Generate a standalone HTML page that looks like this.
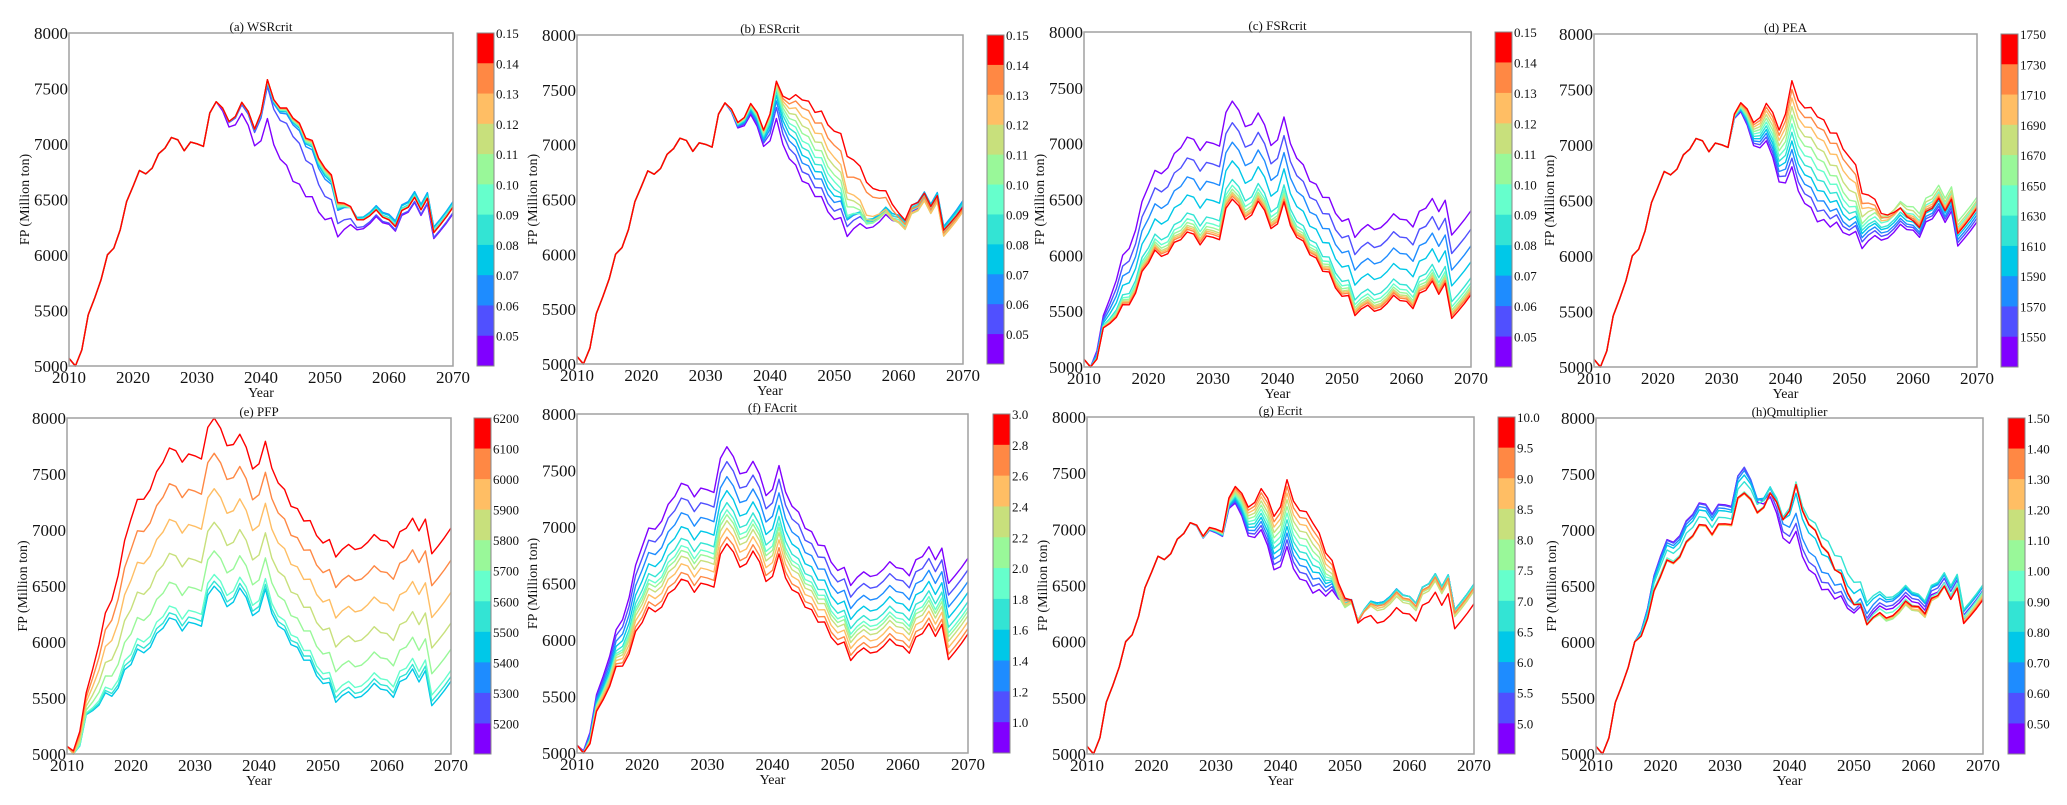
<!DOCTYPE html>
<html><head><meta charset="utf-8"><title>FP sensitivity panels</title>
<style>
html,body{margin:0;padding:0;background:#fff;}
svg{display:block;}
text{font-family:"Liberation Serif","DejaVu Serif",serif;fill:#111;}
</style></head>
<body>
<svg id="fig" width="2067" height="805" viewBox="0 0 2067 805" xmlns="http://www.w3.org/2000/svg"></svg>
<script>
// ---- data ----
const years = []; for (let y = 2010; y <= 2070; y++) years.push(y);
const baseSeries = [5069,5000,5144,5460,5610,5776,6001,6061,6226,6481,6617,6761,6731,6783,6912,6963,7059,7038,6939,7017,7002,6978,7279,7381,7324,7203,7248,7375,7294,7134,7279,7579,7399,7324,7324,7233,7188,7053,7032,6873,6783,6722,6473,6467,6437,6317,6317,6353,6407,6341,6317,6257,6401,6431,6521,6407,6512,6202,6272,6347,6431];
const anchorYears = [2010,2013,2016,2020,2026,2031,2033,2039,2041,2045,2050,2052,2055,2060,2070];
const yTicks = [5000,5500,6000,6500,7000,7500,8000];
const xTicks = [2010,2020,2030,2040,2050,2060,2070];
const bandColors = ['#8000ff','#5050ff','#1e8cff','#00c8e8','#33e4d4','#66ffcc','#99f899','#c8e07c','#ffbe64','#ff8844','#ff0000'];

const deltasA = [
[0,0,0,0,0,0,0,-150,-350,-570,-465,-310,-90,-40,-60],
[0,0,0,0,0,0,0,-30,-60,-165,-255,-190,-70,-30,-50],
[0,0,0,0,0,0,0,-10,-30,-60,-100,-70,20,50,50],
[0,0,0,0,0,0,0,-5,-20,-40,-70,-60,20,40,45],
[0,0,0,0,0,0,0,0,-10,-30,-50,-50,10,20,20],
[0,0,0,0,0,0,0,0,-10,-25,-40,-40,0,10,10],
[0,0,0,0,0,0,0,0,-5,-20,-30,-30,0,5,5],
[0,0,0,0,0,0,0,0,0,-10,-15,-15,0,0,0],
[0,0,0,0,0,0,0,0,0,-10,-15,-15,0,0,0],
[0,0,0,0,0,0,0,0,0,-5,-10,-10,0,0,0],
[0,0,0,0,0,0,0,0,0,0,0,0,0,0,0]];
const deltasB = [
[0,0,0,0,0,0,0,-150,-340,-566,-465,-310,-80,-20,10],
[0,0,0,0,0,0,0,-120,-240,-480,-390,-220,-30,20,40],
[0,0,0,0,0,0,0,-100,-180,-400,-310,-160,-10,40,60],
[0,0,0,0,0,0,0,-80,-130,-330,-250,-150,0,40,50],
[0,0,0,0,0,0,0,-60,-90,-260,-190,-140,-20,20,30],
[0,0,0,0,0,0,0,-45,-60,-200,-120,-120,-40,0,0],
[0,0,0,0,0,0,0,-30,-40,-130,-60,-40,-30,-20,-30],
[0,0,0,0,0,0,0,-20,-20,-60,20,30,0,-30,-40],
[0,0,0,0,0,0,0,-10,-10,20,100,90,40,-20,-40],
[0,0,0,0,0,0,0,-5,-5,100,210,230,250,20,-20],
[0,0,0,0,0,0,0,0,0,175,340,420,340,60,0]];
const deltasC = [
[0,0,0,0,0,0,0,-150,-340,-570,-478,-312,-87,0,-30],
[0,-24,-97,-151,-187,-184,-193,-314,-507,-715,-626,-466,-248,-160,-196],
[0,-46,-186,-288,-357,-352,-368,-463,-659,-846,-760,-606,-394,-306,-346],
[0,-67,-270,-418,-519,-511,-535,-604,-804,-971,-888,-740,-533,-445,-489],
[0,-88,-354,-549,-680,-670,-702,-746,-948,-1096,-1016,-873,-672,-583,-632],
[0,-95,-381,-590,-731,-721,-754,-791,-994,-1135,-1056,-915,-716,-627,-678],
[0,-99,-399,-617,-765,-754,-789,-821,-1024,-1161,-1083,-943,-745,-656,-708],
[0,-102,-412,-638,-791,-779,-816,-843,-1047,-1181,-1103,-964,-767,-678,-730],
[0,-105,-421,-652,-808,-796,-833,-858,-1062,-1194,-1116,-978,-781,-693,-745],
[0,-107,-430,-665,-825,-813,-851,-873,-1077,-1207,-1130,-992,-796,-707,-760],
[0,-110,-443,-686,-850,-838,-877,-895,-1100,-1227,-1150,-1013,-818,-729,-783]];
const deltasD = [
[0,0,0,0,0,0,-80,-466,-775,-925,-595,-406,-175,-85,-123],
[0,0,0,0,0,0,-72,-419,-698,-830,-550,-346,-140,-60,-90],
[0,0,0,0,0,0,-64,-373,-620,-736,-520,-307,-110,-40,-60],
[0,0,0,0,0,0,-56,-326,-543,-642,-460,-271,-80,-10,-30],
[0,0,0,0,0,0,-48,-280,-465,-547,-400,-241,-60,20,0],
[0,0,0,0,0,0,-40,-233,-388,-452,-340,-211,-20,60,50],
[0,0,0,0,0,0,-32,-186,-310,-358,-280,-181,20,126,100],
[0,0,0,0,0,0,-24,-140,-233,-264,-190,-121,40,90,70],
[0,0,0,0,0,0,-16,-93,-155,-169,-85,-46,0,40,30],
[0,0,0,0,0,0,-8,-47,-78,-74,20,0,30,20,10],
[0,0,0,0,0,0,0,0,0,20,110,90,66,0,0]];
const deltasE = [
null,null,null,
[0,-108,-455,-819,-844,-837,-883,-898,-1105,-1256,-1154,-1011,-816,-748,-781],
[0,-102,-434,-780,-798,-792,-838,-859,-1065,-1219,-1116,-972,-776,-708,-740],
[0,-94,-405,-728,-738,-732,-778,-806,-1013,-1170,-1066,-920,-723,-655,-685],
[0,-67,-305,-546,-525,-523,-568,-623,-828,-997,-890,-739,-538,-468,-494],
[0,-34,-184,-325,-268,-270,-312,-401,-604,-787,-677,-518,-313,-242,-261],
[0,5,-41,-66,36,29,-12,-139,-341,-540,-426,-259,-48,24,12],
[0,45,109,207,354,342,304,136,-64,-280,-163,14,230,303,300],
[0,86,259,480,673,656,619,411,213,-21,101,286,508,583,587]];
const deltasF = [
[0,56,89,210,328,327,330,144,-36,-244,-168,9,245,313,293],
[0,33,39,107,197,198,198,27,-156,-351,-269,-93,141,207,190],
[0,10,-11,3,67,69,65,-90,-277,-459,-370,-195,36,101,87],
[0,-11,-57,-94,-56,-51,-59,-200,-389,-559,-465,-291,-61,2,-9],
[0,-29,-97,-176,-160,-154,-165,-293,-485,-645,-546,-372,-145,-82,-92],
[0,-40,-122,-227,-224,-217,-229,-350,-544,-698,-595,-422,-196,-134,-142],
[0,-48,-138,-260,-266,-259,-272,-388,-583,-733,-628,-455,-230,-168,-175],
[0,-56,-157,-301,-317,-309,-324,-434,-630,-774,-667,-495,-270,-209,-215],
[0,-68,-183,-354,-385,-376,-392,-494,-692,-830,-720,-548,-325,-264,-269],
[0,-82,-212,-415,-462,-451,-470,-563,-762,-893,-779,-608,-386,-326,-329],
[0,-92,-235,-462,-521,-510,-530,-616,-817,-942,-825,-654,-433,-374,-376]];
const deltasG = [
[0,0,0,0,0,-41,-147,-494,-731,-801,-416,-303,26,85,81],
[0,0,0,0,0,-37,-132,-447,-672,-739,-410,-290,26,85,81],
[0,0,0,0,0,-33,-118,-399,-612,-676,-410,-285,26,85,81],
[0,0,0,0,0,-29,-103,-352,-553,-614,-420,-280,26,85,81],
[0,0,0,0,0,-25,-88,-304,-494,-552,-440,-280,10,85,81],
[0,0,0,0,0,-21,-74,-257,-434,-489,-460,-280,0,60,60],
[0,0,0,0,0,-16,-59,-209,-375,-427,-480,-280,-20,40,40],
[0,0,0,0,0,-12,-44,-162,-315,-364,-470,-280,-40,20,20],
[0,0,0,0,0,-8,-29,-114,-256,-302,-450,-285,-20,50,40],
[0,0,0,0,0,-4,-15,-67,-196,-239,-420,-295,0,60,50],
[0,0,0,0,0,0,0,-19,-137,-177,-396,-308,-152,-72,-94]];
const deltasH = [
[0,0,0,148,182,233,173,-205,-591,-766,-524,-288,-28,31,-23],
[0,0,0,140,175,225,180,-150,-520,-700,-500,-260,0,60,30],
[0,0,0,120,150,200,150,-80,-430,-610,-450,-220,40,90,60],
[0,0,0,100,120,180,110,-40,-250,-450,-350,-150,60,100,70],
[0,0,0,60,60,120,50,-20,-150,-300,-250,-120,80,110,80],
[0,0,0,-10,-10,60,-40,-40,-160,-380,-440,-300,-60,0,20],
[0,0,0,-30,-20,60,-50,-40,-170,-380,-450,-320,-130,-40,0],
[0,0,0,-30,-20,60,-50,-40,-170,-370,-450,-320,-120,-40,-10],
[0,0,0,-40,-20,60,-60,-45,-175,-375,-450,-320,-110,-30,-20],
[0,0,0,-35,-15,65,-55,-42,-175,-379,-450,-318,-105,-10,-40],
[0,0,0,-31,-11,70,-51,-42,-174,-379,-450,-318,-103,0,-53]];

const cbarA = ['0.15','0.14','0.13','0.12','0.11','0.10','0.09','0.08','0.07','0.06','0.05'];
const cbarD = ['1750','1730','1710','1690','1670','1650','1630','1610','1590','1570','1550'];
const cbarE = ['6200','6100','6000','5900','5800','5700','5600','5500','5400','5300','5200'];
const cbarF = ['3.0','2.8','2.6','2.4','2.2','2.0','1.8','1.6','1.4','1.2','1.0'];
const cbarG = ['10.0','9.5','9.0','8.5','8.0','7.5','7.0','6.5','6.0','5.5','5.0'];
const cbarH = ['1.50','1.40','1.30','1.20','1.10','1.00','0.90','0.80','0.70','0.60','0.50'];

const panelTitles = ['(a) WSRcrit','(b) ESRcrit','(c) FSRcrit','(d) PEA','(e) PFP','(f) FAcrit','(g) Ecrit','(h)Qmultiplier'];
const panelDeltas = [deltasA,deltasB,deltasC,deltasD,deltasE,deltasF,deltasG,deltasH];
const panelCbars = [cbarA,cbarA,cbarA,cbarD,cbarE,cbarF,cbarG,cbarH];

// ---- layout ----
const layout = [
{x0:69,x1:453,y0:33,y1:366,cb:477},{x0:577,x1:963,y0:35,y1:364,cb:987},
{x0:1084,x1:1471,y0:32,y1:367,cb:1495},{x0:1594,x1:1977,y0:34,y1:367,cb:2001},
{x0:67,x1:451,y0:418,y1:754,cb:474},{x0:577,x1:968,y0:414,y1:753,cb:993},
{x0:1087,x1:1474,y0:417,y1:754,cb:1498},{x0:1596,x1:1983,y0:418,y1:754,cb:2008}];

const NS='http://www.w3.org/2000/svg';
const svg=document.getElementById('fig');
function mk(tag,attrs,parent){const e=document.createElementNS(NS,tag);for(const k in attrs)e.setAttribute(k,attrs[k]);(parent||svg).appendChild(e);return e;}
function deltaAt(d,yr){
  for(let i=0;i<anchorYears.length-1;i++){
    const a=anchorYears[i],b=anchorYears[i+1];
    if(yr>=a&&yr<=b){const t=(yr-a)/(b-a);return d[i]+(d[i+1]-d[i])*t;}
  }
  return d[d.length-1];
}
const slugs=['wsrcrit','esrcrit','fsrcrit','pea','pfp','facrit','ecrit','qmultiplier'];
layout.forEach((L,p)=>{
  const g=mk('g',{});
  
  
  const xS=v=>L.x0+(v-2010)/60*(L.x1-L.x0);
  const yS=v=>L.y1-(v-5000)/3000*(L.y1-L.y0);
  // series
  const lines=mk('g',{},g);
  
  
  panelDeltas[p].forEach((d,ci)=>{
    if(!d)return;
    const pts=years.map((yr,i)=>{let v=baseSeries[i]+deltaAt(d,yr);v=Math.max(5000,Math.min(8000,v));return xS(yr).toFixed(1)+','+yS(v).toFixed(1);}).join(' ');
    const pl=mk('polyline',{points:pts,fill:'none',stroke:bandColors[ci],'stroke-width':1.4,'stroke-linejoin':'round'},lines);
    
    
  });
  // frame
  const fr=mk('rect',{x:L.x0,y:L.y0,width:L.x1-L.x0,height:L.y1-L.y0,fill:'none',stroke:'#a0a0a0','stroke-width':1.5},g);
  
  
  // title
  const t=mk('text',{x:(L.x0+L.x1)/2,y:L.y0-2,'text-anchor':'middle','font-size':13},g);
  t.textContent=panelTitles[p];
  
  
  // y ticks
  yTicks.forEach(v=>{
    const tx=mk('text',{x:L.x0-1,y:yS(v)+6,'text-anchor':'end','font-size':17},g);
    tx.textContent=v;
    
    
  });
  xTicks.forEach(v=>{
    const tx=mk('text',{x:xS(v),y:L.y1+17,'text-anchor':'middle','font-size':17},g);
    tx.textContent=v;
    
    
  });
  const xl=mk('text',{x:(L.x0+L.x1)/2,y:L.y1+31,'text-anchor':'middle','font-size':14},g);
  xl.textContent='Year';
  
  
  const cy=(L.y0+L.y1)/2, lx=L.x0-40;
  const yl=mk('text',{x:lx,y:cy,'text-anchor':'middle','font-size':14,transform:'rotate(-90 '+lx+' '+cy+')'},g);
  yl.textContent='FP (Million ton)';
  
  
  // colorbar
  const cbg=mk('g',{},g);
  
  
  const h=(L.y1-L.y0)/11;
  for(let k=0;k<11;k++){
    const r=mk('rect',{x:L.cb,y:L.y0+k*h,width:17,height:h+0.5,fill:bandColors[10-k]},cbg);
    
    
    const lt=mk('text',{x:L.cb+19,y:L.y0+k*h+5,'font-size':13},cbg);
    lt.textContent=panelCbars[p][k];
    
    
  }
  const cbf=mk('rect',{x:L.cb,y:L.y0,width:17,height:L.y1-L.y0,fill:'none',stroke:'#888','stroke-width':1},cbg);
  
  
});
</script>
</body></html>
